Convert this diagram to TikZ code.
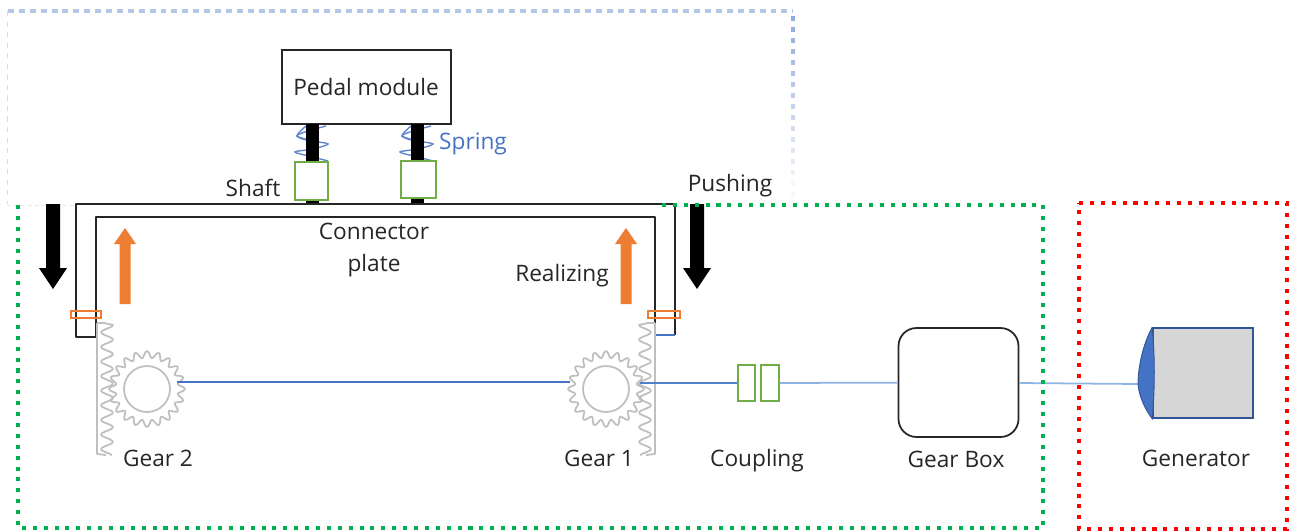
\documentclass[tikz,border=0pt]{standalone}
\usepackage{xcolor}
\usepackage{fontspec}
\setmainfont{Open Sans}
\definecolor{RigInk}{HTML}{262626}
\definecolor{RigBlue}{HTML}{4472C4}
\definecolor{RigEdge}{HTML}{2F5597}
\definecolor{RigSky}{HTML}{8FB4E3}
\definecolor{RigPale}{HTML}{B4C7E7}
\definecolor{RigGreen}{HTML}{70AD47}
\definecolor{RigOrange}{HTML}{ED7D31}
\definecolor{RigGear}{HTML}{BFBFBF}
\definecolor{RigBody}{HTML}{D6D6D6}
\definecolor{RigDots}{HTML}{00B050}
\tikzset{
  lbl/.style={font=\fontsize{12.9}{15}\selectfont,text=RigInk,inner sep=0pt},
  frameline/.style={draw=RigInk,line width=1.2pt},
  gearline/.style={draw=RigGear,line width=1pt,line join=round},
  coilline/.style={draw=RigBlue!85,line width=0.8pt},
  collar/.style={draw=RigGreen,line width=0.8pt,fill=white,inner sep=0pt},
  dotline/.style={line width=2.3pt,dash pattern=on 2.3pt off 3.9pt},
  boxnode/.style={draw=RigInk,line width=1pt,fill=white,inner sep=0pt}
}
\begin{document}
\begin{tikzpicture}[x=0.02cm,y=-0.02cm]
\path[use as bounding box] (0,0) rectangle (1289,531);
% faded upper frame
\draw[RigPale,line width=2pt,dash pattern=on 3.4pt off 2.8pt] (8,11) -- (793,11);
\draw[RigPale!60,line width=0.4pt,dash pattern=on 3pt off 3pt] (7,11) -- (7,204);
\draw[RigPale!40,line width=0.4pt,dash pattern=on 2pt off 2pt] (7,205) -- (76,205);
\foreach \y in {16,27,...,192} {
  \pgfmathsetmacro{\fadeval}{max(0.08,1-(\y-16)/185)}
  \fill[RigBlue!60,opacity=\fadeval] (790.5,\y) rectangle (795,\y+4.5);
}
% pedal module and shafts
\node[boxnode,minimum width=3.38cm,minimum height=1.48cm] (pedal) at (366.5,87) {};
\node[lbl] (pedaltxt) at (366,87) {Pedal module};
\foreach \sx/\sname in {312/one,417/two} {
  \draw[coilline,smooth] plot coordinates {(\sx+14,126) (\sx-4,131) (\sx-15,136) (\sx+1,141) (\sx+16,144) (\sx+1,149) (\sx-17,152) (\sx+1,157) (\sx+16,161)};
  \draw[coilline,smooth] plot coordinates {(\sx-6,126) (\sx-15,136) (\sx-2,141)};
  \coordinate (top\sname) at (\sx,124);
  \coordinate (base\sname) at (\sx,204);
  \draw[black,line width=7.4pt] (top\sname) -- (base\sname);
}
\node[collar,minimum width=0.66cm,minimum height=0.76cm] (collarone) at (311.5,181) {};
\node[collar,minimum width=0.7cm,minimum height=0.74cm] (collartwo) at (418.5,179.5) {};
% connector plate
\draw[frameline,line join=round] (675,335) -- (675,204) -- (76,204) -- (76,337) -- (96,337) -- (96,217) -- (655,217) -- (655,335);
\draw[RigBlue,line width=1.2pt] (655,335) -- (675,335);
% racks
\draw[gearline,smooth] (97,323) -- (104,323) -- plot[domain=0:130,samples=90] ({107+6*cos(\x/14.6*360)},{325+\x});
\draw[gearline] (97,323) -- (97,454) -- (106,455);
\draw[gearline,smooth] (655,323) -- (648,323) -- plot[domain=0:130,samples=90] ({645-6*cos(\x/14.6*360)},{325+\x});
\draw[gearline] (655,323) -- (655,454) -- (646,455);
% gears
\foreach \gx/\gname in {147/two,606/one} {
  \draw[gearline,smooth] plot[domain=0:360,samples=161] ({\gx+(34.5+3.5*cos(20*\x))*cos(\x)},{389+(34.5+3.5*cos(20*\x))*sin(\x)}) -- cycle;
  \node[circle,draw=RigGear,line width=1pt,minimum size=0.92cm,inner sep=0pt] (gear\gname) at (\gx,389) {};
}
% orange collars
\draw[RigOrange,line width=0.9pt] (71,311) rectangle (101,318);
\draw[RigOrange,line width=0.9pt] (648,311) rectangle (680,318);
% pushing and realizing arrows
\foreach \ax in {53,697} {
  \fill[black] (\ax-7,204) -- (\ax+7,204) -- (\ax+7,268) -- (\ax+14,268) -- (\ax,289) -- (\ax-14,268) -- (\ax-7,268) -- cycle;
}
\foreach \ax in {125,626} {
  \fill[RigOrange] (\ax-5.5,304) -- (\ax+5.5,304) -- (\ax+5.5,244) -- (\ax+11,244) -- (\ax,228) -- (\ax-11,244) -- (\ax-5.5,244) -- cycle;
}
% drive line
\node[draw=RigGreen,line width=0.8pt,minimum width=0.34cm,minimum height=0.72cm,inner sep=0pt] (couplea) at (746.5,383) {};
\node[draw=RigGreen,line width=0.8pt,minimum width=0.36cm,minimum height=0.72cm,inner sep=0pt] (coupleb) at (770,383) {};
\node[draw=RigInk,line width=1pt,rounded corners=0.36cm,minimum width=2.4cm,minimum height=2.18cm,inner sep=0pt] (gearbox) at (958.5,382.5) {};
\coordinate (hubtwo) at (177,382);
\coordinate (hubone) at (570,382);
\coordinate (hubout) at (640,383);
\coordinate (capnose) at (1138,384);
\draw[RigBlue,line width=0.8pt] (hubtwo) -- (hubone);
\draw[RigBlue!80!RigSky,line width=0.8pt] (hubout) -- (couplea);
\draw[RigSky,line width=1pt] (coupleb) -- (gearbox);
\draw[RigSky,line width=1pt] (gearbox) -- (capnose);
% generator
\node[draw=RigEdge,line width=0.9pt,fill=RigBody,minimum width=2cm,minimum height=1.8cm,inner sep=0pt] (genbody) at (1203,373) {};
\fill[RigBlue,draw=RigEdge,line width=0.5pt] (genbody.north west) .. controls (1144,342) and (1138,365) .. (capnose) .. controls (1139,398) and (1147,412) .. (genbody.south west) .. controls (1155,390) and (1155,355) .. (genbody.north west);
% dotted frames
\draw[RigDots,dotline] (662,205) -- (1043,205) -- (1043,528) -- (18,528) -- (18,205);
\draw[red,dotline] (1079,203) -- (1287,203) -- (1287,529) -- (1079,529) -- cycle;
% labels
\node[lbl,text=RigBlue] (springtxt) at (473,144) {Spring};
\node[lbl] (shafttxt) at (253,188) {Shaft};
\node[lbl] (pushtxt) at (730,186) {Pushing};
\node[lbl] (connecttxt) at (374,231) {Connector};
\node[lbl] (platetxt) at (374,266) {plate};
\node[lbl] (realtxt) at (562,276) {Realizing};
\node[lbl] (geartwotxt) at (158,458) {Gear 2};
\node[lbl] (gearonetxt) at (599,458) {Gear 1};
\node[lbl] (coupletxt) at (757,461) {Coupling};
\node[lbl] (boxtxt) at (956,459) {Gear Box};
\node[lbl] (gentxt) at (1196,458) {Generator};
\end{tikzpicture}
\end{document}
